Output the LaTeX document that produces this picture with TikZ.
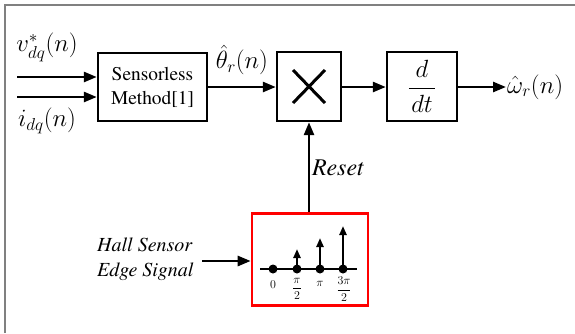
\documentclass[tikz,border=0pt]{standalone}
\usepackage{amsmath}
\usepackage{fontspec}
\IfFontExistsTF{texgyretermes-regular.otf}{%
\setmainfont{texgyretermes}[Extension=.otf, UprightFont=*-regular, ItalicFont=*-italic, BoldFont=*-bold, BoldItalicFont=*-bolditalic]}{}
\usetikzlibrary{arrows.meta}
\begin{document}
\begin{tikzpicture}[x=1pt,y=-1pt,
  blk/.style={draw, line width=2.4pt, inner sep=0pt, align=center},
  arr/.style={line width=2.6pt, -{Triangle[length=13pt,width=10pt]}},
  sarr/.style={line width=2.4pt, -{Triangle[length=9pt,width=7pt]}},
  lbl/.style={inner sep=1pt, font=\fontsize{24}{28}\selectfont},
  txt/.style={font=\fontsize{19.4}{25}\selectfont},
  tick/.style={inner sep=0pt, font=\fontsize{12.5}{13}\selectfont},
  dot/.style={circle, fill=black, inner sep=0pt, minimum size=9pt}]
\useasboundingbox (0,0) rectangle (575,333);
% frame
\draw[gray, line width=2pt] (4.5,333) -- (4.5,4.5) -- (575,4.5);
% blocks
\node[blk, txt, minimum width=109pt, minimum height=68pt] (sm) at (152.5,87) {Sensorless\\[-1pt]Method[1]};
\node[blk, minimum width=64pt, minimum height=69pt] (xb) at (309,86.5) {};
\draw[line width=3pt] (293,70) -- (325,103) (293,103) -- (325,70);
\node[blk, minimum width=70pt, minimum height=69pt, font=\fontsize{24}{28}\selectfont] (dd) at (422,86.5) {$\dfrac{\;d\rule[-4pt]{0pt}{4pt}\;}{\rule{0pt}{21pt}dt}$};
\node[draw=red, line width=2.6pt, minimum width=116pt, minimum height=92pt, inner sep=0pt] (rb) at (310,259.5) {};
% inputs
\coordinate (in1) at (17,77);
\coordinate (in2) at (17,97);
\draw[arr] (in1) -- (in1 -| sm.west);
\draw[arr] (in2) -- (in2 -| sm.west);
\node[lbl] (lv) at (47,47) {$v^{*}_{dq}(n)$};
\node[lbl] (li) at (47,121) {$i_{dq}(n)$};
% theta
\draw[arr] (sm.east |- 0,87) -- (xb.west |- 0,87);
\node[lbl] (lt) at (242,60) {$\hat{\theta}_{r}(n)$};
\draw[arr] (xb.east |- 0,87) -- (dd.west |- 0,87);
\node[lbl, anchor=west] (om) at (506,87) {$\hat{\omega}_{r}(n)$};
\draw[arr] (dd.east |- 0,87) -- (om.west);
% reset
\draw[arr] (xb.south |- rb.north) -- (xb.south);
\node[lbl, anchor=west] (rs) at (311,168) {\textit{Reset}};
% hall
\node[txt, anchor=west, align=left, inner sep=0pt, font=\fontsize{20}{25}\selectfont\itshape] (hs) at (97,259.5) {Hall Sensor\\Edge Signal};
\coordinate (hin) at (202,261);
\draw[arr] (hin) -- (hin -| rb.west);
% pulse train
\draw[line width=2.6pt] (260,269) -- (357,269);
\node[dot] (d0) at (273,269) {};
\node[dot] (d1) at (297,269) {};
\node[dot] (d2) at (320,269) {};
\node[dot] (d3) at (343,269) {};
\coordinate (t1) at (297,249);
\coordinate (t2) at (320,238);
\coordinate (t3) at (343,226);
\draw[sarr] (d1.center) -- (t1);
\draw[sarr] (d2.center) -- (t2);
\draw[sarr] (d3.center) -- (t3);
\node[tick] (l0) at (273,285) {$0$};
\node[tick] (l1) at (297,289) {$\dfrac{\pi}{2}$};
\node[tick] (l2) at (320,284) {$\pi$};
\node[tick] (l3) at (344,289) {$\dfrac{3\pi}{2}$};
\end{tikzpicture}
\end{document}
